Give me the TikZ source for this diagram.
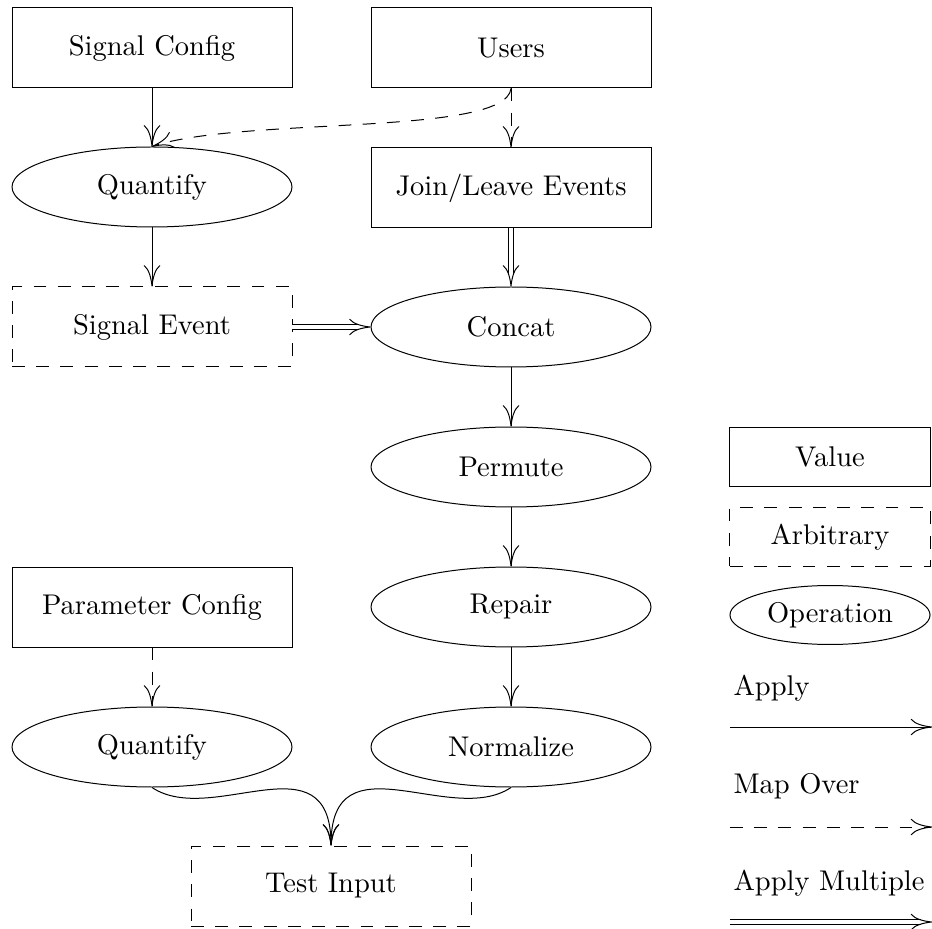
\documentclass[tikz,border=0pt]{standalone}
\usetikzlibrary{arrows.meta,shapes.geometric}
\begin{document}
\begin{tikzpicture}[x=0.3509pt,y=-0.3509pt,
  base/.style={draw, line width=0.35pt, inner sep=0pt, font=\normalsize},
  valbox/.style={base, rectangle, minimum width=98.25pt, minimum height=28.07pt},
  arbbox/.style={valbox, dash pattern=on 4.5pt off 4pt},
  opell/.style={base, ellipse, minimum width=98.25pt, minimum height=28.07pt},
  lvalbox/.style={base, rectangle, minimum width=70.2pt, minimum height=20.7pt},
  larbbox/.style={lvalbox, dash pattern=on 4.5pt off 4pt},
  lopell/.style={base, ellipse, minimum width=70.2pt, minimum height=20.7pt},
  tip/.style={-{To[length=7.5pt,width=5.8pt]}},
  apply/.style={tip, line width=0.35pt},
  mapover/.style={tip, line width=0.35pt, dash pattern=on 4.5pt off 4pt},
  multi/.style={double, double distance=1.7pt, line width=0.35pt, shorten >=4pt},
  multitip/.style={tip, line width=0.35pt, dash pattern=on 0pt off 2000pt},
  lbl/.style={anchor=west, inner sep=0pt, font=\normalsize}
]
\useasboundingbox (0,0) rectangle (932,929);

% main nodes
\node[valbox] (sigconf) at (152,48) {Signal Config};
\node[valbox] (users) at (511,48) {Users};
\node[opell] (quant1) at (152,187) {Quantify};
\node[valbox] (join) at (511,188) {Join/Leave Events};
\node[arbbox] (sigevent) at (152,327) {Signal Event};
\node[opell] (concat) at (511,327) {Concat};
\node[opell] (permute) at (511,467) {Permute};
\node[valbox] (paramconf) at (152,607) {Parameter Config};
\node[opell] (repair) at (511,607) {Repair};
\node[opell] (quant2) at (152,747) {Quantify};
\node[opell] (normalize) at (511,747) {Normalize};
\node[arbbox] (testinput) at (331,886) {Test Input};

% legend
\node[lvalbox] (lvalue) at (830,457) {Value};
\node[larbbox] (larb) at (830,537) {Arbitrary};
\node[lopell] (lop) at (830,615) {Operation};
\node[lbl] (lapply) at (733,688) {Apply};
\node[lbl] (lmap) at (733,786) {Map Over};
\node[lbl] (lmulti) at (733,883) {Apply Multiple};
\coordinate (a1) at (730,727);
\coordinate (a2) at (932,727);
\coordinate (m1) at (730,827);
\coordinate (m2) at (932,827);
\coordinate (d1) at (730,922);
\coordinate (d2) at (932,922);
\draw[apply] (a1) -- (a2);
\draw[mapover] (m1) -- (m2);
\draw[multi] (d1) -- (d2);
\draw[multitip] (d1) -- (d2);

% edges
\draw[apply] (sigconf.south) -- (quant1.north);
\draw[mapover] (users.south) .. controls +(-5,48) and +(90,-30) .. (quant1.north);
\draw[mapover] (users.south) -- (join.north);
\draw[apply] (quant1.south) -- (sigevent.north);
\draw[multi] (join.south) -- (concat.north);
\draw[multitip] (join.south) -- (concat.north);
\draw[multi] (sigevent.east) -- (concat.west);
\draw[multitip] (sigevent.east) -- (concat.west);
\draw[apply] (concat.south) -- (permute.north);
\draw[apply] (permute.south) -- (repair.north);
\draw[apply] (repair.south) -- (normalize.north);
\draw[mapover] (paramconf.south) -- (quant2.north);
\draw[apply] (quant2.south) .. controls +(60,40) and +(0,-110) .. (testinput.north);
\draw[apply] (normalize.south) .. controls +(-60,40) and +(0,-110) .. (testinput.north);
\end{tikzpicture}
\end{document}
